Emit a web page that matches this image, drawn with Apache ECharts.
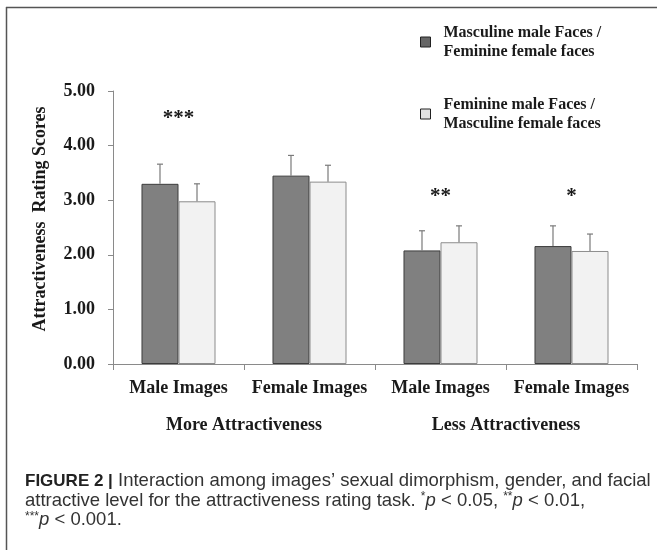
<!DOCTYPE html>
<html>
<head>
<meta charset="utf-8">
<script src="https://cdn.jsdelivr.net/npm/echarts@6/dist/echarts.min.js"></script>
<style>
html,body{margin:0;padding:0;background:#fff;}
#chart{width:657px;height:550px;}
</style>
</head>
<body>
<div id="chart"></div>
<script>
// ---- data ----
const categories = ['Male Images', 'Female Images', 'Male Images', 'Female Images'];
const groupLabels = ['More Attractiveness', 'Less Attractiveness'];
const seriesNames = ['Masculine male Faces /\nFeminine female faces', 'Feminine male Faces /\nMasculine female faces'];
const darkValues = [3.30, 3.45, 2.08, 2.16];
const darkErrors = [0.36, 0.37, 0.36, 0.37];
const lightValues = [2.98, 3.34, 2.23, 2.07];
const lightErrors = [0.32, 0.30, 0.30, 0.31];
const starLabels = ['***', '**', '*'];
const starCats = [0, 2, 3];
const starLevels = [4.49, 3.06, 3.06];
const yTicks = [0, 1, 2, 3, 4, 5];
const yAxisTitle = 'Attractiveness  Rating Scores';
const captionLines = [
  '{b|FIGURE 2 |} Interaction among images\u2019 sexual dimorphism, gender, and facial',
  'attractive level for the attractiveness rating task. {s|*}{i|p} < 0.05, {s|**}{i|p} < 0.01,',
  '{s|***}{i|p} < 0.001.'
];

const SERIF = '"Liberation Serif", "Times New Roman", serif';
const SANS = '"Liberation Sans", Arial, sans-serif';
const CAT_GAP = 0.435;

function errorSeries(values, errors, side) {
  return {
    type: 'custom',
    z: 5,
    silent: true,
    data: values.map((v, i) => [i, v, errors[i]]),
    renderItem: function (params, api) {
      const i = api.value(0), v = api.value(1), e = api.value(2);
      const band = api.size([1, 0])[0];
      const barW = band * (1 - CAT_GAP) / 2;
      const cx = api.coord([i, 0])[0] + side * barW / 2;
      const y1 = api.coord([i, v])[1];
      const y2 = api.coord([i, v + e])[1];
      const st = { stroke: '#7a7a7a', lineWidth: 1.2 };
      return {
        type: 'group',
        children: [
          { type: 'line', shape: { x1: cx, y1: y1, x2: cx, y2: y2 }, style: st },
          { type: 'line', shape: { x1: cx - 3, y1: y2, x2: cx + 3, y2: y2 }, style: st }
        ]
      };
    }
  };
}

const chart = echarts.init(document.getElementById('chart'), null, { renderer: 'canvas' });
chart.setOption({
  animation: false,
  backgroundColor: '#ffffff',
  grid: { left: 113, right: 20, top: 91, bottom: 186, containLabel: false },
  legend: {
    orient: 'vertical',
    left: 415,
    top: 18,
    itemWidth: 10,
    itemHeight: 10,
    itemGap: 34,
    selectedMode: false,
    icon: 'rect',
    textStyle: { fontFamily: SERIF, fontWeight: 'bold', fontSize: 16, lineHeight: 19, color: '#1a1a1a', padding: [0, 0, 0, 8] },
    data: [
      { name: seriesNames[0], itemStyle: { color: '#666666', borderColor: '#222', borderWidth: 1 } },
      { name: seriesNames[1], itemStyle: { color: '#e2e2e2', borderColor: '#222', borderWidth: 1 } }
    ]
  },
  xAxis: [
    {
      type: 'category',
      data: categories,
      boundaryGap: true,
      axisLine: { show: true, lineStyle: { color: '#8a8a8a', width: 1 } },
      axisTick: { show: true, length: 6, alignWithLabel: false, lineStyle: { color: '#8a8a8a' } },
      axisLabel: { fontFamily: SERIF, fontWeight: 'bold', fontSize: 18, color: '#1a1a1a', margin: 15, interval: 0 },
      splitLine: { show: false }
    },
    {
      type: 'category',
      data: groupLabels,
      position: 'bottom',
      gridIndex: 0,
      axisLine: { show: false },
      axisTick: { show: false },
      axisLabel: { fontFamily: SERIF, fontWeight: 'bold', fontSize: 18, color: '#1a1a1a', margin: 52, interval: 0 },
      splitLine: { show: false }
    }
  ],
  yAxis: {
    type: 'value',
    min: 0,
    max: 5,
    interval: 1,
    axisLine: { show: true, lineStyle: { color: '#8a8a8a', width: 1 } },
    axisTick: { show: true, length: 5, lineStyle: { color: '#8a8a8a' } },
    axisLabel: {
      fontFamily: SERIF, fontWeight: 'bold', fontSize: 18, color: '#1a1a1a', margin: 18,
      formatter: v => (yTicks.indexOf(v) >= 0 ? v.toFixed(2) : '')
    },
    splitLine: { show: false }
  },
  series: [
    {
      name: seriesNames[0],
      type: 'bar',
      data: darkValues,
      barGap: '0%',
      barCategoryGap: (CAT_GAP * 100) + '%',
      itemStyle: { color: '#808080', borderColor: '#3c3c3c', borderWidth: 1 }
    },
    {
      name: seriesNames[1],
      type: 'bar',
      data: lightValues,
      barGap: '0%',
      barCategoryGap: (CAT_GAP * 100) + '%',
      itemStyle: { color: '#f2f2f2', borderColor: '#8c8c8c', borderWidth: 1 }
    },
    errorSeries(darkValues, darkErrors, -1),
    errorSeries(lightValues, lightErrors, 1),
    {
      type: 'custom',
      silent: true,
      z: 6,
      data: starCats.map((c, k) => [c, starLevels[k]]),
      renderItem: function (params, api) {
        const p = api.coord([api.value(0), api.value(1)]);
        return {
          type: 'text',
          style: {
            text: starLabels[params.dataIndex],
            x: p[0], y: p[1],
            align: 'center', verticalAlign: 'middle',
            fontFamily: SERIF, fontWeight: 'bold', fontSize: 21, fill: '#1a1a1a'
          }
        };
      }
    }
  ],
  graphic: [
    { type: 'line', shape: { x1: 6, y1: 7.5, x2: 657, y2: 7.5 }, style: { stroke: '#555', lineWidth: 1.5 } },
    { type: 'line', shape: { x1: 6.5, y1: 7, x2: 6.5, y2: 550 }, style: { stroke: '#555', lineWidth: 1.5 } },
    {
      type: 'text', x: 40, y: 219, rotation: Math.PI / 2,
      style: { text: yAxisTitle, align: 'center', verticalAlign: 'middle', fontFamily: SERIF, fontWeight: 'bold', fontSize: 18, fill: '#1a1a1a' }
    }
  ].concat(captionLines.map((t, k) => ({
    type: 'text', x: 25, y: 481 + k * 19.5,
    style: {
      text: t, align: 'left', verticalAlign: 'middle',
      fontFamily: SANS, fontSize: 18.5, fill: '#333',
      rich: {
        b: { fontFamily: SANS, fontSize: 17, fontWeight: 'bold', fill: '#222' },
        i: { fontFamily: SANS, fontSize: 18.5, fontStyle: 'italic', fill: '#333' },
        s: { fontFamily: SANS, fontSize: 12, fill: '#333', verticalAlign: 'top' }
      }
    }
  })))
});
</script>
</body>
</html>
